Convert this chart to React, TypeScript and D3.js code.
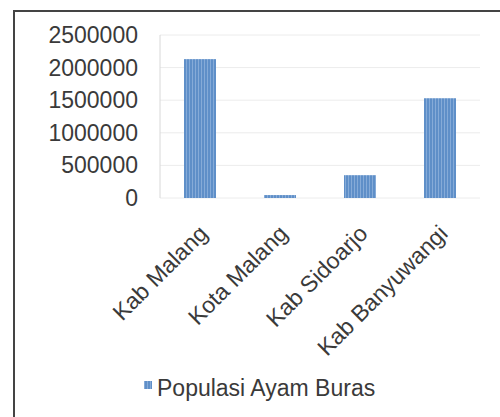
import React, { useEffect, useRef } from 'react';
import * as d3 from 'd3';

const categories = ['Kab Malang', 'Kota Malang', 'Kab Sidoarjo', 'Kab Banyuwangi'];
const values = [2130000, 45000, 350000, 1530000];
const yTicks = [0, 500000, 1000000, 1500000, 2000000, 2500000];
const seriesName = 'Populasi Ayam Buras';

export default function App() {
    const ref = useRef<SVGSVGElement>(null);

    useEffect(() => {
        const svg = d3.select(ref.current);
        svg.selectAll('*').remove();

        const width = 500;
        const height = 417;
        const font = 'Liberation Sans, Arial, sans-serif';

        svg.append('rect').attr('width', width).attr('height', height).attr('fill', '#ffffff');

        // outer frame
        svg.append('rect')
            .attr('x', 14).attr('y', 11)
            .attr('width', 520).attr('height', 430)
            .attr('fill', 'none')
            .attr('stroke', '#444')
            .attr('stroke-width', 2);

        const x = d3.scaleBand<string>()
            .domain(categories)
            .range([160, 480])
            .paddingInner(0.6)
            .paddingOuter(0.3);

        const y = d3.scaleLinear()
            .domain([0, 2500000])
            .range([198, 35]);

        // stripe pattern for bars
        const defs = svg.append('defs');
        const pat = defs.append('pattern')
            .attr('id', 'stripes')
            .attr('patternUnits', 'userSpaceOnUse')
            .attr('width', 3).attr('height', 3);
        pat.append('rect').attr('width', 3).attr('height', 3).attr('fill', '#5f8fc8');
        pat.append('rect').attr('width', 1).attr('height', 3).attr('fill', '#86abd8');

        // gridlines
        svg.append('g')
            .selectAll('line')
            .data(yTicks)
            .enter()
            .append('line')
            .attr('x1', 160).attr('x2', 480)
            .attr('y1', (d) => y(d)).attr('y2', (d) => y(d))
            .attr('stroke', '#ececec')
            .attr('stroke-width', 1);

        // y axis line
        svg.append('line')
            .attr('x1', 160).attr('x2', 160)
            .attr('y1', y(2500000)).attr('y2', y(0))
            .attr('stroke', '#d8d8d8');

        // y labels
        svg.append('g')
            .selectAll('text')
            .data(yTicks)
            .enter()
            .append('text')
            .attr('x', 138)
            .attr('y', (d) => y(d))
            .attr('dy', '0.35em')
            .attr('text-anchor', 'end')
            .style('font-family', font)
            .style('font-size', '23px')
            .style('fill', '#3a3a3a')
            .text((d) => d3.format('d')(d));

        // bars
        svg.append('g')
            .selectAll('rect')
            .data(values)
            .enter()
            .append('rect')
            .attr('x', (_, i) => x(categories[i]) as number)
            .attr('y', (d) => y(d))
            .attr('width', x.bandwidth())
            .attr('height', (d) => y(0) - y(d))
            .attr('fill', 'url(#stripes)');

        // x labels
        svg.append('g')
            .selectAll('text')
            .data(categories)
            .enter()
            .append('text')
            .attr('text-anchor', 'end')
            .attr('transform', (d) => {
                const cx = (x(d) as number) + x.bandwidth() / 2 + 9;
                return `translate(${cx}, 235) rotate(-45)`;
            })
            .style('font-family', font)
            .style('font-size', '23px')
            .style('fill', '#3a3a3a')
            .text((d) => d);

        // legend
        svg.append('rect')
            .attr('x', 144).attr('y', 381)
            .attr('width', 8).attr('height', 8)
            .attr('fill', 'url(#stripes)');
        svg.append('text')
            .attr('x', 157).attr('y', 396)
            .style('font-family', font)
            .style('font-size', '23px')
            .style('fill', '#3a3a3a')
            .text(seriesName);
    }, []);

    return (
        <svg ref={ref} width={500} height={417}
             style={{position: 'fixed', left: 0, top: 0, display: 'block'}}/>
    );
}
